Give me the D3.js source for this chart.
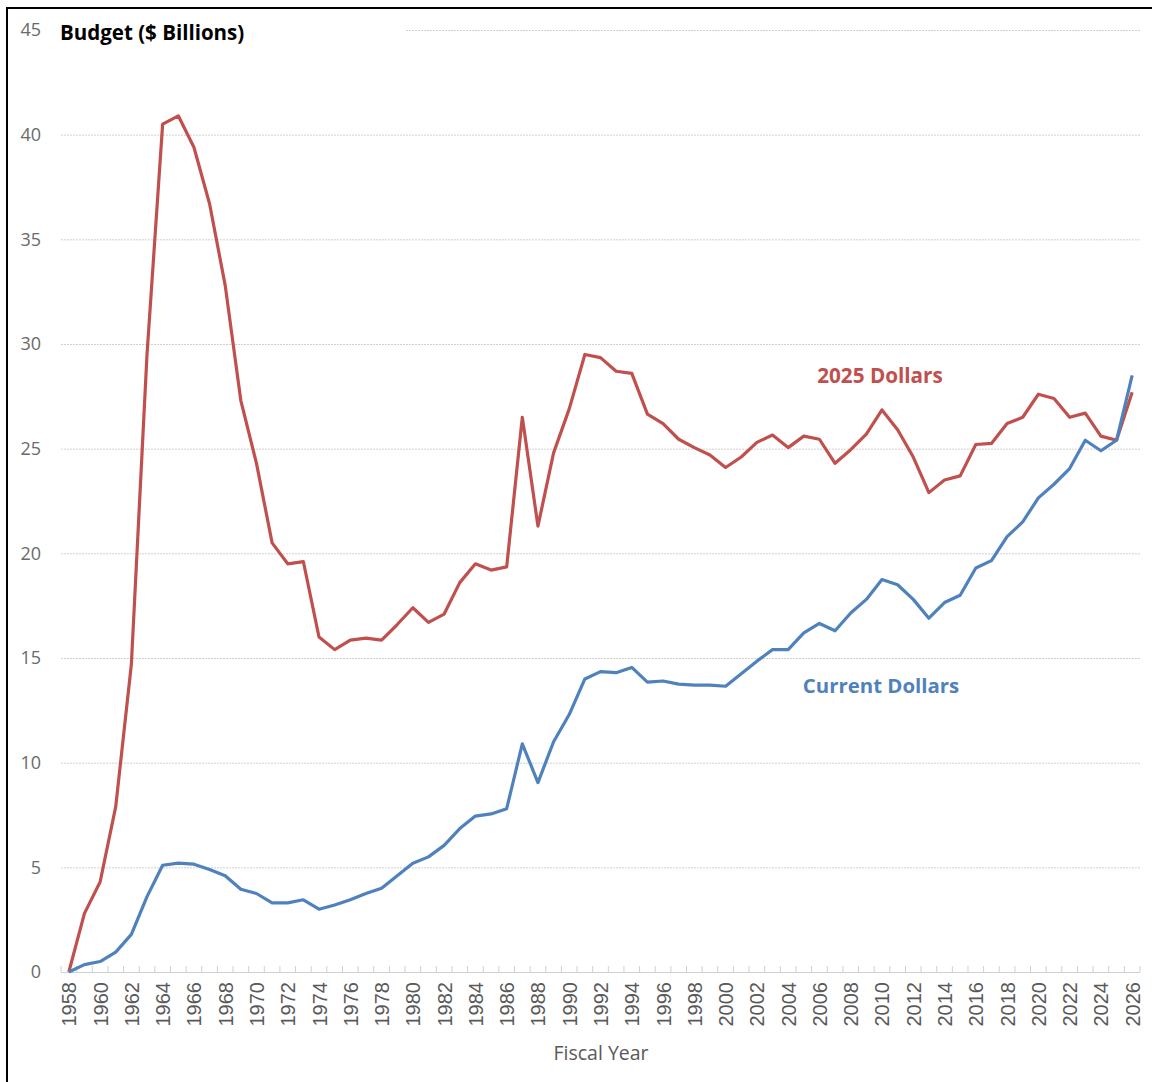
<!DOCTYPE html>
<html><head><meta charset="utf-8">
<script src="https://cdn.jsdelivr.net/npm/d3@7"></script>
<style>body{margin:0;background:#fff}svg{display:block}</style>
</head><body>
<svg id="chart" width="1152" height="1082"></svg>
<script>
const years = d3.range(1958, 2027);
const dollars2025 = [0,2.8,4.3,7.9,14.7,29.5,40.5,40.9,39.4,36.7,32.8,27.3,24.3,20.5,19.5,19.6,16.0,15.4,15.85,15.95,15.85,16.6,17.4,16.7,17.1,18.6,19.5,19.2,19.35,26.5,21.3,24.8,26.9,29.5,29.35,28.7,28.6,26.65,26.2,25.45,25.05,24.7,24.1,24.6,25.3,25.65,25.05,25.6,25.45,24.3,24.95,25.7,26.85,25.9,24.6,22.9,23.5,23.7,25.2,25.25,26.2,26.5,27.6,27.4,26.5,26.7,25.6,25.4,27.7];
const currentDollars = [0,0.35,0.5,0.95,1.8,3.6,5.1,5.2,5.15,4.9,4.6,3.95,3.75,3.3,3.3,3.45,3.0,3.2,3.45,3.75,4.0,4.6,5.2,5.5,6.05,6.85,7.45,7.55,7.8,10.9,9.05,11.0,12.3,14.0,14.35,14.3,14.55,13.85,13.9,13.75,13.7,13.7,13.65,14.25,14.85,15.4,15.4,16.2,16.65,16.3,17.15,17.8,18.75,18.5,17.8,16.9,17.65,18.0,19.3,19.65,20.8,21.5,22.65,23.3,24.05,25.4,24.9,25.4,28.5];
const yTicks = [0,5,10,15,20,25,30,35,40,45];
const xTickLabels = d3.range(1958, 2027, 2);
const seriesNames = ["2025 Dollars", "Current Dollars"];

const svg = d3.select("#chart");
const mLeft = 61, mRight = 1140, mTop = 30, mBottom = 972;
const x = d3.scaleLinear().domain([1957.5, 2026.5]).range([mLeft, mRight]);
const y = d3.scaleLinear().domain([0, 45]).range([mBottom, mTop]);

// frame
svg.append("line").attr("x1",6).attr("x2",1152).attr("y1",8).attr("y2",8).attr("stroke","#000").attr("stroke-width",2);
svg.append("line").attr("x1",7).attr("x2",7).attr("y1",8).attr("y2",1082).attr("stroke","#000").attr("stroke-width",2);

// gridlines
svg.append("g").selectAll("line").data(yTicks.filter(d=>d>0)).join("line")
  .attr("x1",mLeft).attr("x2",mRight).attr("y1",d=>y(d)+0.5).attr("y2",d=>y(d)+0.5)
  .attr("stroke","#d0d0d0").attr("stroke-width",1).attr("stroke-dasharray","2,1");

// y axis labels
const yAxis = d3.axisLeft(y).tickValues(yTicks).tickSize(0).tickPadding(0).tickFormat(d3.format("d"));
const gy = svg.append("g").attr("transform",`translate(${mLeft-20},0)`).call(yAxis);
gy.select(".domain").remove();
gy.selectAll("text").attr("font-family","'Open Sans', sans-serif").attr("font-size",18).attr("fill","#6a6a6a");

// x axis
const xAxis = d3.axisBottom(x).tickValues(xTickLabels).tickSize(0).tickPadding(0).tickFormat(d3.format("d"));
const gx = svg.append("g").attr("transform",`translate(0,${mBottom})`).call(xAxis);
gx.select(".domain").remove();
gx.selectAll("text")
  .attr("font-family","'Liberation Sans', Arial, sans-serif").attr("font-size",20).attr("fill","#595959")
  .attr("transform","rotate(-90)").attr("text-anchor","end").attr("x",-10).attr("y",0).attr("dy","0.35em");
svg.append("line").attr("x1",mLeft).attr("x2",mRight).attr("y1",mBottom+0.5).attr("y2",mBottom+0.5).attr("stroke","#d0d0d0").attr("stroke-width",1);
svg.append("g").selectAll("line").data(d3.range(1957.5, 2027, 1)).join("line")
  .attr("x1",d=>x(d)).attr("x2",d=>x(d)).attr("y1",mBottom-6).attr("y2",mBottom)
  .attr("stroke","#d0d0d0").attr("stroke-width",1);

// title with white box
svg.append("rect").attr("x",mLeft).attr("y",y(45)-12).attr("width",345).attr("height",24).attr("fill","#fff");
svg.append("text").attr("x",60).attr("y",40).text("Budget ($ Billions)")
  .attr("font-family","'Open Sans', sans-serif").attr("font-weight","bold").attr("font-size",20.5).attr("fill","#000");

// lines
const line = d3.line().x((d,i)=>x(years[i])).y(d=>y(d));
svg.append("path").datum(dollars2025).attr("d",line).attr("fill","none").attr("stroke","#C0504D").attr("stroke-width",3.2).attr("stroke-linejoin","round");
svg.append("path").datum(currentDollars).attr("d",line).attr("fill","none").attr("stroke","#4F81BD").attr("stroke-width",3.2).attr("stroke-linejoin","round");

// series labels
svg.append("text").attr("x",880).attr("y",383).attr("text-anchor","middle").text(seriesNames[0])
  .attr("font-family","'Open Sans', sans-serif").attr("font-weight","bold").attr("font-size",20.7).attr("fill","#C0504D");
svg.append("text").attr("x",881).attr("y",693).attr("text-anchor","middle").text(seriesNames[1])
  .attr("font-family","'Open Sans', sans-serif").attr("font-weight","bold").attr("font-size",20.4).attr("fill","#4F81BD");

// x axis title
svg.append("text").attr("x",601).attr("y",1060).attr("text-anchor","middle").text("Fiscal Year")
  .attr("font-family","'Open Sans', sans-serif").attr("font-size",19.5).attr("fill","#595959");
</script>
</body></html>
